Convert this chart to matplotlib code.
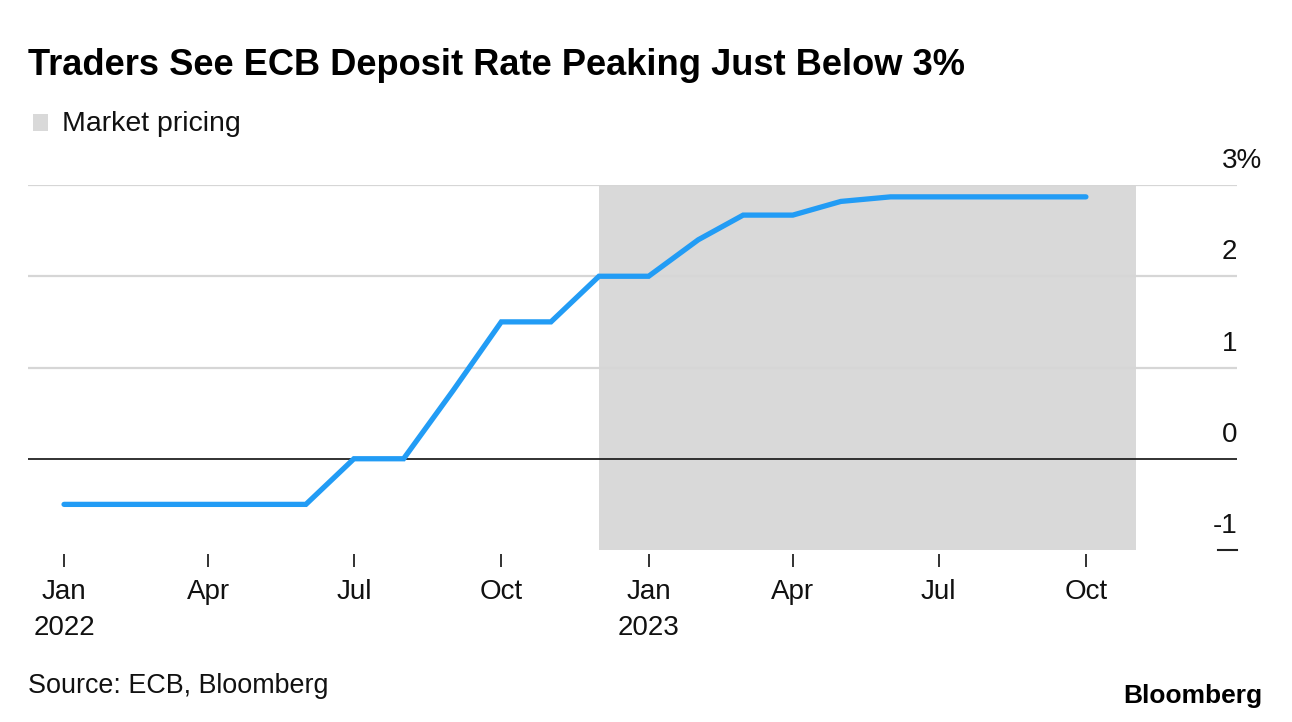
import matplotlib
matplotlib.use("Agg")
import matplotlib.pyplot as plt
import matplotlib.dates as mdates
import matplotlib.transforms as mtransforms
from matplotlib.patches import Rectangle
import numpy as np
import datetime as dt

plt.rcParams['font.family'] = ['Liberation Sans', 'DejaVu Sans']

# ---- data ----
months = ["2022-01", "2022-02", "2022-03", "2022-04", "2022-05", "2022-06",
          "2022-07", "2022-08", "2022-09", "2022-10", "2022-11", "2022-12",
          "2023-01", "2023-02", "2023-03", "2023-04", "2023-05", "2023-06",
          "2023-07", "2023-08", "2023-09", "2023-10"]
deposit_rate = [-0.5, -0.5, -0.5, -0.5, -0.5, -0.5,
                0.0, 0.0, 0.75, 1.5, 1.5, 2.0,
                2.0, 2.4, 2.67, 2.67, 2.82, 2.87,
                2.87, 2.87, 2.87, 2.87]
shade_start = "2022-12-01"
shade_end = "2023-11-01"
y_ticks = [-1, 0, 1, 2, 3]
y_tick_labels = ["-1", "0", "1", "2", "3%"]
x_tick_dates = ["2022-01-01", "2022-04-01", "2022-07-01", "2022-10-01",
                "2023-01-01", "2023-04-01", "2023-07-01", "2023-10-01"]
x_tick_labels = ["Jan\n2022", "Apr", "Jul", "Oct", "Jan\n2023", "Apr", "Jul", "Oct"]

title = "Traders See ECB Deposit Rate Peaking Just Below 3%"
legend_label = "Market pricing"
source = "Source: ECB, Bloomberg"

# ---- figure ----
W, H = 1292, 722
fig = plt.figure(figsize=(W / 100, H / 100), dpi=100)
ax = fig.add_axes([28 / W, 1 - 550 / H, (1237 - 28) / W, (550 - 185) / H])

dates = [dt.datetime.strptime(m + "-01", "%Y-%m-%d") for m in months]
xd = mdates.date2num(dates)

ax.axvspan(mdates.datestr2num(shade_start), mdates.datestr2num(shade_end),
           color="#d9d9d9", lw=0, zorder=0)

for yv in y_ticks:
    if yv == 0:
        ax.axhline(yv, color="#222222", lw=1.3, zorder=1)
    elif yv == -1:
        ax.axhline(yv, xmin=1 - 19 / 1209, xmax=1, color="#222222", lw=1.5,
                   zorder=1, clip_on=False)
    else:
        ax.axhline(yv, color="#d6d6d6", lw=1.6, zorder=0.5)

ax.plot(xd, deposit_rate, color="#229cf5", lw=3.8, solid_capstyle="round",
        solid_joinstyle="miter", zorder=3)

ax.set_ylim(-1, 3)
ax.set_xlim(mdates.date2num(dt.datetime(2021, 12, 9, 12)),
            mdates.date2num(dt.datetime(2024, 1, 3, 8)))

for s in ax.spines.values():
    s.set_visible(False)
ax.spines['bottom'].set_position(('outward', 3))

# y ticks on the right, labels above gridlines
YFS = 20
ax.yaxis.tick_right()
ax.set_yticks(y_ticks)
ax.set_yticklabels(y_tick_labels)
ax.tick_params(axis='y', length=0, pad=0, labelsize=YFS, labelcolor="#111111")
for lab in ax.get_yticklabels():
    dx = 0.0
    if lab.get_text().endswith("%"):
        dx = 0.889 * YFS / 72  # let the % sign hang past the right edge
    off = mtransforms.ScaledTranslation(dx, 17 / 100, fig.dpi_scale_trans)
    lab.set_horizontalalignment('right')
    lab.set_verticalalignment('baseline')
    lab.set_transform(lab.get_transform() + off)

# x ticks
ax.set_xticks(mdates.datestr2num(x_tick_dates))
ax.set_xticklabels(x_tick_labels)
ax.tick_params(axis='x', length=9, width=1.3, color="#222222", pad=9,
               labelsize=20, labelcolor="#111111")
for lab in ax.get_xticklabels():
    lab.set_linespacing(1.5)
    lab.set_verticalalignment('top')

# title, legend, source, logo
fig.text(28 / W, 1 - 75 / H, title, fontsize=26.1, fontweight='bold',
         va='baseline', ha='left', color="#000000")
fig.patches.append(Rectangle((33 / W, 1 - 131 / H), 15 / W, 17 / H,
                             transform=fig.transFigure, color="#d9d9d9", lw=0))
fig.text(62 / W, 1 - 131 / H, legend_label, fontsize=20.5, va='baseline',
         ha='left', color="#111111")
fig.text(28 / W, 1 - 693 / H, source, fontsize=19.4, va='baseline', ha='left',
         color="#111111")
fig.text(1262 / W, 1 - 703 / H, "Bloomberg", fontsize=19, fontweight='bold',
         va='baseline', ha='right', color="#000000")

fig.savefig("out.png", dpi=100)
